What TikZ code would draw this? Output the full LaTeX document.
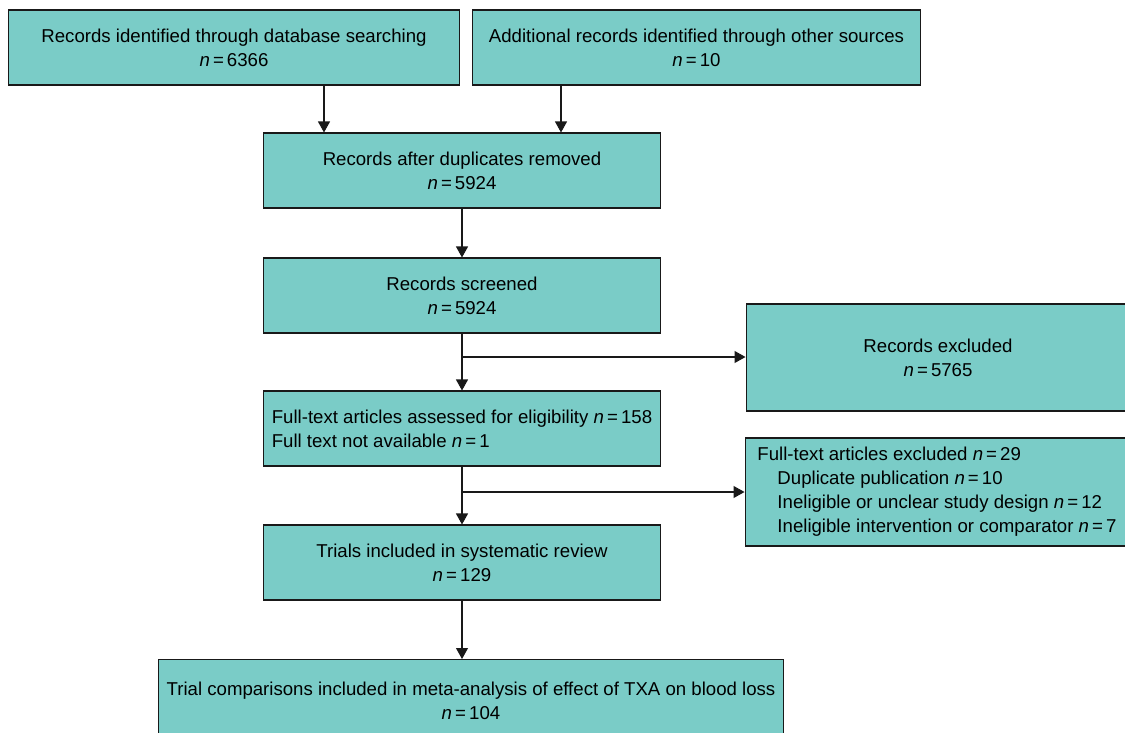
\documentclass[tikz,border=0pt]{standalone}
\usepackage{fontspec}
\setmainfont{Liberation Sans}
\usetikzlibrary{arrows.meta}
\definecolor{boxteal}{RGB}{122,204,199}
\begin{document}
\begin{tikzpicture}[x=0.02cm,y=-0.02cm,thick,
     every node/.style = {font=\fontsize{10.6}{13.7}\selectfont},
     box/.style = {draw=black!90,fill=boxteal,line width=0.6pt,inner sep=0pt,align=center},
     arr/.style = {-{Triangle[width=0.24cm,length=0.22cm]},line width=0.6pt,black!90}]
     \useasboundingbox (0,0) rectangle (1125,733);
     \clip (0,0) rectangle (1125,733);
     \node[box,minimum width=9.04cm,minimum height=1.5cm](ident) at (234,47.5)
         {Records identified through database searching\\ \textit{n}\,=\,6366};
     \node[box,minimum width=8.98cm,minimum height=1.5cm](other) at (696.5,47.5)
         {Additional records identified through other sources\\ \textit{n}\,=\,10};
     \node[box,minimum width=7.96cm,minimum height=1.5cm](dupl) at (462,170.5)
         {Records after duplicates removed\\ \textit{n}\,=\,5924};
     \node[box,minimum width=7.96cm,minimum height=1.5cm](screen) at (462,295.5)
         {Records screened\\ \textit{n}\,=\,5924};
     \node[box,minimum width=7.68cm,minimum height=2.14cm](excl) at (938,357.5)
         {Records excluded\\ \textit{n}\,=\,5765};
     \node[box,minimum width=7.96cm,minimum height=1.5cm,align=left](full) at (462,428.5)
         {Full-text articles assessed for eligibility \textit{n}\,=\,158\\
          Full text not available \textit{n}\,=\,1};
     \node[box,minimum width=7.68cm,minimum height=2.16cm,align=left](fexcl) at (937,492)
         {Full-text articles excluded \textit{n}\,=\,29\\
          \hspace*{0.4cm}Duplicate publication \textit{n}\,=\,10\\
          \hspace*{0.4cm}Ineligible or unclear study design \textit{n}\,=\,12\\
          \hspace*{0.4cm}Ineligible intervention or comparator \textit{n}\,=\,7};
     \node[box,minimum width=7.96cm,minimum height=1.5cm](trials) at (462,562.5)
         {Trials included in systematic review\\ \textit{n}\,=\,129};
     \node[box,minimum width=12.52cm,minimum height=1.64cm,anchor=north](meta) at (471,659)
         {Trial comparisons included in meta-analysis of effect of TXA on blood loss\\ \textit{n}\,=\,104};
     % connectors
     \coordinate (a1) at (324,85);
     \coordinate (b1) at (561,85);
     \coordinate (s1) at (462,357);
     \coordinate (f1) at (462,492);
     \draw[arr] (a1) -- (a1 |- dupl.north);
     \draw[arr] (b1) -- (b1 |- dupl.north);
     \draw[arr] (dupl) -- (screen);
     \draw[arr] (screen) -- (full);
     \draw[arr] (s1) -- (s1 -| excl.west);
     \draw[arr] (full) -- (trials);
     \draw[arr] (f1) -- (f1 -| fexcl.west);
     \draw[arr] (trials) -- (trials |- meta.north);
   \end{tikzpicture}
\end{document}
